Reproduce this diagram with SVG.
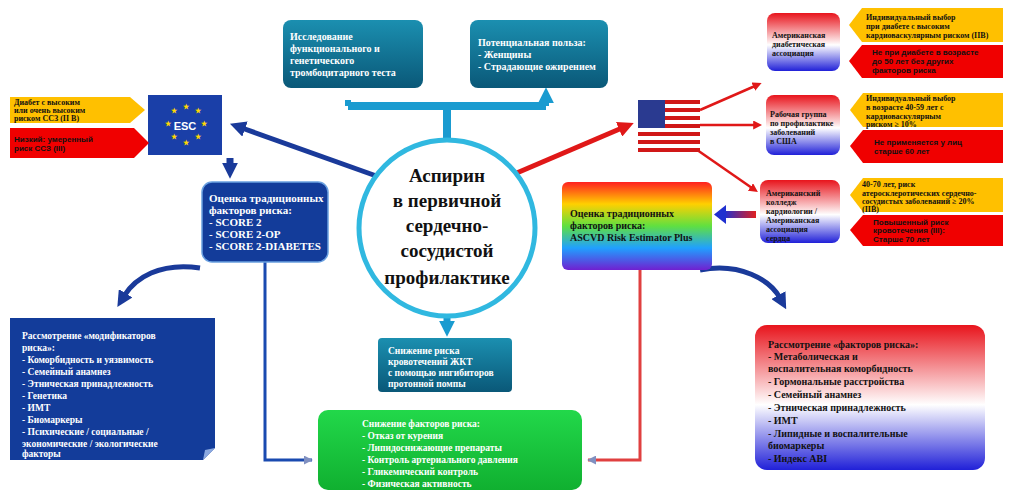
<svg xmlns="http://www.w3.org/2000/svg" width="1013" height="503" viewBox="0 0 1013 503">
<defs>
<linearGradient id="teal" x1="0" y1="0" x2="0" y2="1"><stop offset="0" stop-color="#1b8fb0"/><stop offset="1" stop-color="#0a5878"/></linearGradient>
<linearGradient id="usa" x1="0" y1="0" x2="0" y2="1"><stop offset="0" stop-color="#e8141c"/><stop offset="0.55" stop-color="#ffffff"/><stop offset="1" stop-color="#2020d8"/></linearGradient>
<linearGradient id="rainbow" x1="0" y1="0" x2="0" y2="1"><stop offset="0" stop-color="#ff2020"/><stop offset="0.25" stop-color="#ffd000"/><stop offset="0.5" stop-color="#60e040"/><stop offset="0.75" stop-color="#20a0ff"/><stop offset="1" stop-color="#7020d0"/></linearGradient>
<linearGradient id="green" x1="0" y1="0" x2="0" y2="1"><stop offset="0" stop-color="#22d84a"/><stop offset="1" stop-color="#10b030"/></linearGradient>
<linearGradient id="rb" x1="0" y1="0" x2="1" y2="0"><stop offset="0" stop-color="#2030d0"/><stop offset="1" stop-color="#e02020"/></linearGradient>
<marker id="ab" viewBox="0 0 10 10" refX="2" refY="5" markerUnits="userSpaceOnUse" markerWidth="16" markerHeight="16" orient="auto"><path d="M0,0L10,5L0,10z" fill="#1a9bd0"/></marker>
<marker id="ar" viewBox="0 0 10 10" refX="2" refY="5" markerUnits="userSpaceOnUse" markerWidth="16" markerHeight="16" orient="auto"><path d="M0,0L10,5L0,10z" fill="#e01818"/></marker>
<marker id="ar2" viewBox="0 0 10 10" refX="2" refY="5" markerUnits="userSpaceOnUse" markerWidth="9" markerHeight="9" orient="auto"><path d="M0,0L10,5L0,10z" fill="#e01818"/></marker>
<marker id="adb" viewBox="0 0 10 10" refX="2" refY="5" markerUnits="userSpaceOnUse" markerWidth="16" markerHeight="16" orient="auto"><path d="M0,0L10,5L0,10z" fill="#1a3a9a"/></marker>
<marker id="sm" viewBox="0 0 10 10" refX="9" refY="5" markerUnits="userSpaceOnUse" markerWidth="9" markerHeight="9" orient="auto"><path d="M0,0L10,5L0,10z" fill="#8090c0"/></marker>
</defs>
<style>
text{font-family:"Liberation Serif",serif;font-weight:bold}
.w{fill:#fff;font-size:10px}
.k{fill:#111;font-size:10px}
.s{font-family:"Liberation Sans",sans-serif;fill:#111;font-size:8px}
</style>
<rect width="1013" height="503" fill="#fff"/>
<g id="connectors">
<path d="M447,140V106M348,106H546" stroke="#1a9bd0" stroke-width="8" fill="none"/>
<path d="M348,106V100M546,106V100" stroke="#1a9bd0" stroke-width="6" marker-end="url(#ab)" fill="none"/>
<line x1="382" y1="178" x2="242" y2="128" stroke="#1a3a9a" stroke-width="5" marker-end="url(#adb)"/>
<line x1="512" y1="175" x2="622" y2="128" stroke="#e01818" stroke-width="5" marker-end="url(#ar)"/>
<line x1="230" y1="158" x2="230" y2="166" stroke="#1a3a9a" stroke-width="7" marker-end="url(#adb)"/>
<line x1="700" y1="110" x2="755" y2="86" stroke="#e01818" stroke-width="2.5" marker-end="url(#ar2)"/>
<line x1="700" y1="125" x2="755" y2="125" stroke="#e01818" stroke-width="2.5" marker-end="url(#ar2)"/>
<line x1="690" y1="145" x2="752" y2="188" stroke="#e01818" stroke-width="2.5" marker-end="url(#ar2)"/>
<rect x="724" y="211" width="32" height="7" fill="url(#rb)"/>
<path d="M726,205L714,214.5L726,224z" fill="#2030d0"/>
<line x1="447" y1="318" x2="447" y2="324" stroke="#1a9bd0" stroke-width="7" marker-end="url(#ab)"/>
<path d="M200,268C160,262 135,278 124,296" stroke="#1a3a9a" stroke-width="5" fill="none" marker-end="url(#adb)"/>
<path d="M700,270C740,262 770,280 780,298" stroke="#1a3a9a" stroke-width="5" fill="none" marker-end="url(#adb)"/>
<path d="M265,262V460H312" stroke="#1a4ab0" stroke-width="3" fill="none" marker-end="url(#sm)"/>
<path d="M640,270V460H588" stroke="#e04040" stroke-width="3" fill="none" marker-end="url(#sm)"/>
</g>
<g id="top1"><rect x="283" y="20" width="140" height="68" rx="8" fill="url(#teal)"/>
<text class="w"><tspan x="290" y="40">Исследование</tspan><tspan x="290" y="52">функционального и</tspan><tspan x="290" y="64">генетического</tspan><tspan x="290" y="76">тромбоцитарного теста</tspan></text></g>
<g id="top2"><rect x="470" y="20" width="138" height="68" rx="8" fill="url(#teal)"/>
<text class="w"><tspan x="478" y="46">Потенциальная польза:</tspan><tspan x="478" y="58">- Женщины</tspan><tspan x="478" y="70">- Страдающие ожирением</tspan></text></g>
<g id="center"><circle cx="447" cy="228" r="88" fill="#fff" stroke="#30b8e0" stroke-width="5"/>
<text fill="#111" text-anchor="middle" style="font-size:19px"><tspan x="447" y="182">Аспирин</tspan><tspan x="447" y="207">в первичной</tspan><tspan x="447" y="232">сердечно-</tspan><tspan x="447" y="257">сосудистой</tspan><tspan x="447" y="284">профилактике</tspan></text></g>
<g id="esc"><rect x="148" y="95" width="74" height="60" fill="#1a3fa8"/>
<text x="185" y="130" text-anchor="middle" style="font-family:'Liberation Sans',sans-serif;fill:#fff;font-size:11px">ESC</text>
<g style="fill:#ffd800;font-size:7px"><text x="183" y="109" style="fill:#ffd800;font-size:7px">★</text><text x="171" y="113" style="fill:#ffd800;font-size:7px">★</text><text x="195" y="113" style="fill:#ffd800;font-size:7px">★</text><text x="165" y="126" style="fill:#ffd800;font-size:7px">★</text><text x="201" y="126" style="fill:#ffd800;font-size:7px">★</text><text x="171" y="139" style="fill:#ffd800;font-size:7px">★</text><text x="195" y="139" style="fill:#ffd800;font-size:7px">★</text><text x="183" y="145" style="fill:#ffd800;font-size:7px">★</text></g></g>
<g id="esc-y"><path d="M10,97H130L145,110L130,123H10z" fill="#ffc000"/><text class="k" style="font-size:8px"><tspan x="14" y="105">Диабет с высоким</tspan><tspan x="14" y="113">или очень высоким</tspan><tspan x="14" y="121">риском ССЗ (II B)</tspan></text></g>
<g id="esc-r"><path d="M10,128H134L149,143L134,158H10z" fill="#f00000"/><text class="s"><tspan x="14" y="142">Низкий: умеренный</tspan><tspan x="14" y="151">риск ССЗ (III)</tspan></text></g>
<g id="score"><rect x="202" y="182" width="126" height="80" rx="10" fill="#133c9a" stroke="#6aa0e0" stroke-width="1.5"/>
<text class="w" style="font-size:11px"><tspan x="209" y="202">Оценка традиционных</tspan><tspan x="209" y="214">факторов риска:</tspan><tspan x="209" y="226">- SCORE 2</tspan><tspan x="209" y="238">- SCORE 2-OP</tspan><tspan x="209" y="250">- SCORE 2-DIABETES</tspan></text></g>
<g id="usflag"><rect x="638" y="100" width="62" height="52" fill="#fff"/>
<g fill="#d01818"><rect x="638" y="100" width="62" height="4"/><rect x="638" y="108" width="62" height="4"/><rect x="638" y="116" width="62" height="4"/><rect x="638" y="124" width="62" height="4"/><rect x="638" y="132" width="62" height="4"/><rect x="638" y="140" width="62" height="4"/><rect x="638" y="148" width="62" height="4"/></g>
<rect x="638" y="100" width="27" height="28" fill="#2a3a90"/></g>
<g id="ada"><rect x="767" y="13" width="73" height="58" rx="8" fill="url(#usa)"/><text class="k" style="font-size:8px"><tspan x="772" y="38">Американская</tspan><tspan x="772" y="47">диабетическая</tspan><tspan x="772" y="56">ассоциация</tspan></text></g>
<g id="uspstf"><rect x="766" y="95" width="74" height="60" rx="8" fill="url(#usa)"/><text class="k" style="font-size:8px"><tspan x="770" y="117">Рабочая группа</tspan><tspan x="770" y="126">по профилактике</tspan><tspan x="770" y="135">заболеваний</tspan><tspan x="770" y="144">в США</tspan></text></g>
<g id="acc"><rect x="760" y="180" width="80" height="63" rx="8" fill="url(#usa)"/><text class="k" style="font-size:8px"><tspan x="766" y="196">Американский</tspan><tspan x="766" y="205">колледж</tspan><tspan x="766" y="214">кардиологии /</tspan><tspan x="766" y="223">Американская</tspan><tspan x="766" y="232">ассоциация</tspan><tspan x="766" y="241">сердца</tspan></text></g>
<g id="y1"><path d="M862,8H1003V42H862L849,25z" fill="#ffc000"/><text class="k" style="font-size:8px"><tspan x="866" y="20">Индивидуальный выбор</tspan><tspan x="866" y="29">при диабете с высоким</tspan><tspan x="866" y="38">кардиоваскулярным риском (IIB)</tspan></text></g>
<g id="r1"><path d="M862,45H1003V78H862L849,61z" fill="#f00000"/><text class="s"><tspan x="872" y="55">Не при диабете в возрасте</tspan><tspan x="872" y="64">до 50 лет без других</tspan><tspan x="872" y="73">факторов риска</tspan></text></g>
<g id="y2"><path d="M863,93H1003V127H863L850,110z" fill="#ffc000"/><text class="k" style="font-size:8px"><tspan x="866" y="101">Индивидуальный выбор</tspan><tspan x="866" y="110">в возрасте 40-59 лет с</tspan><tspan x="866" y="119">кардиоваскулярным</tspan><tspan x="866" y="127">риском ≥ 10%</tspan></text></g>
<g id="r2"><path d="M863,130H1003V163H863L850,146z" fill="#f00000"/><text class="s"><tspan x="874" y="145">Не применяется у лиц</tspan><tspan x="874" y="154">старше 60 лет</tspan></text></g>
<g id="y3"><path d="M863,178H1003V212H863L850,195z" fill="#ffc000"/><text class="k" style="font-size:8px"><tspan x="862" y="187">40-70 лет, риск</tspan><tspan x="862" y="196">атеросклеротических сердечно-</tspan><tspan x="862" y="204">сосудистых заболеваний ≥ 20%</tspan><tspan x="862" y="212">(IIB)</tspan></text></g>
<g id="r3"><path d="M863,215H1003V246H863L850,230z" fill="#f00000"/><text class="s"><tspan x="873" y="225">Повышенный риск</tspan><tspan x="873" y="233">кровотечения (III):</tspan><tspan x="873" y="242">Старше 70 лет</tspan></text></g>
<g id="ascvd"><rect x="562" y="182" width="150" height="88" rx="6" fill="url(#rainbow)"/><text class="k" style="font-size:10px"><tspan x="570" y="217">Оценка традиционных</tspan><tspan x="570" y="229">факторов риска:</tspan><tspan x="570" y="241">ASCVD Risk Estimator Plus</tspan></text></g>
<g id="modif"><path d="M10,318H215V448L203,460H10z" fill="#133c9a"/><path d="M203,460L205,450L215,448z" fill="#8aa8e0"/>
<text class="w" style="font-size:9.5px"><tspan x="22" y="339">Рассмотрение «модификаторов</tspan><tspan x="22" y="351">риска»:</tspan><tspan x="22" y="363">- Коморбидность и уязвимость</tspan><tspan x="22" y="375">- Семейный анамнез</tspan><tspan x="22" y="387">- Этническая принадлежность</tspan><tspan x="22" y="399">- Генетика</tspan><tspan x="22" y="411">- ИМТ</tspan><tspan x="22" y="423">- Биомаркеры</tspan><tspan x="22" y="435">- Психические / социальные /</tspan><tspan x="22" y="447">экономические / экологические</tspan><tspan x="22" y="457">факторы</tspan></text></g>
<g id="ppi"><rect x="378" y="338" width="134" height="54" rx="4" fill="url(#teal)"/><text class="w" style="font-size:9.5px"><tspan x="388" y="354">Снижение риска</tspan><tspan x="388" y="365">кровотечений ЖКТ</tspan><tspan x="388" y="376">с помощью ингибиторов</tspan><tspan x="388" y="387">протонной помпы</tspan></text></g>
<g id="factors"><rect x="318" y="410" width="264" height="80" rx="10" fill="url(#green)"/><text class="w" style="font-size:9.5px"><tspan x="362" y="427">Снижение факторов риска:</tspan><tspan x="362" y="439">- Отказ от курения</tspan><tspan x="362" y="451">- Липидоснижающие препараты</tspan><tspan x="362" y="463">- Контроль артериального давления</tspan><tspan x="362" y="475">- Гликемический контроль</tspan><tspan x="362" y="487">- Физическая активность</tspan></text></g>
<g id="riskf"><rect x="755" y="325" width="230" height="145" rx="12" fill="url(#usa)"/><text class="k" style="font-size:10px"><tspan x="768" y="348">Рассмотрение «факторов риска»:</tspan><tspan x="768" y="360">- Метаболическая и</tspan><tspan x="768" y="372">воспалительная коморбидность</tspan><tspan x="768" y="385">- Гормональные расстройства</tspan><tspan x="768" y="398">- Семейный анамнез</tspan><tspan x="768" y="411">- Этническая принадлежность</tspan><tspan x="768" y="424">- ИМТ</tspan><tspan x="768" y="437">- Липидные и воспалительные</tspan><tspan x="768" y="449">биомаркеры</tspan><tspan x="768" y="462">- Индекс ABI</tspan></text></g>
</svg>
